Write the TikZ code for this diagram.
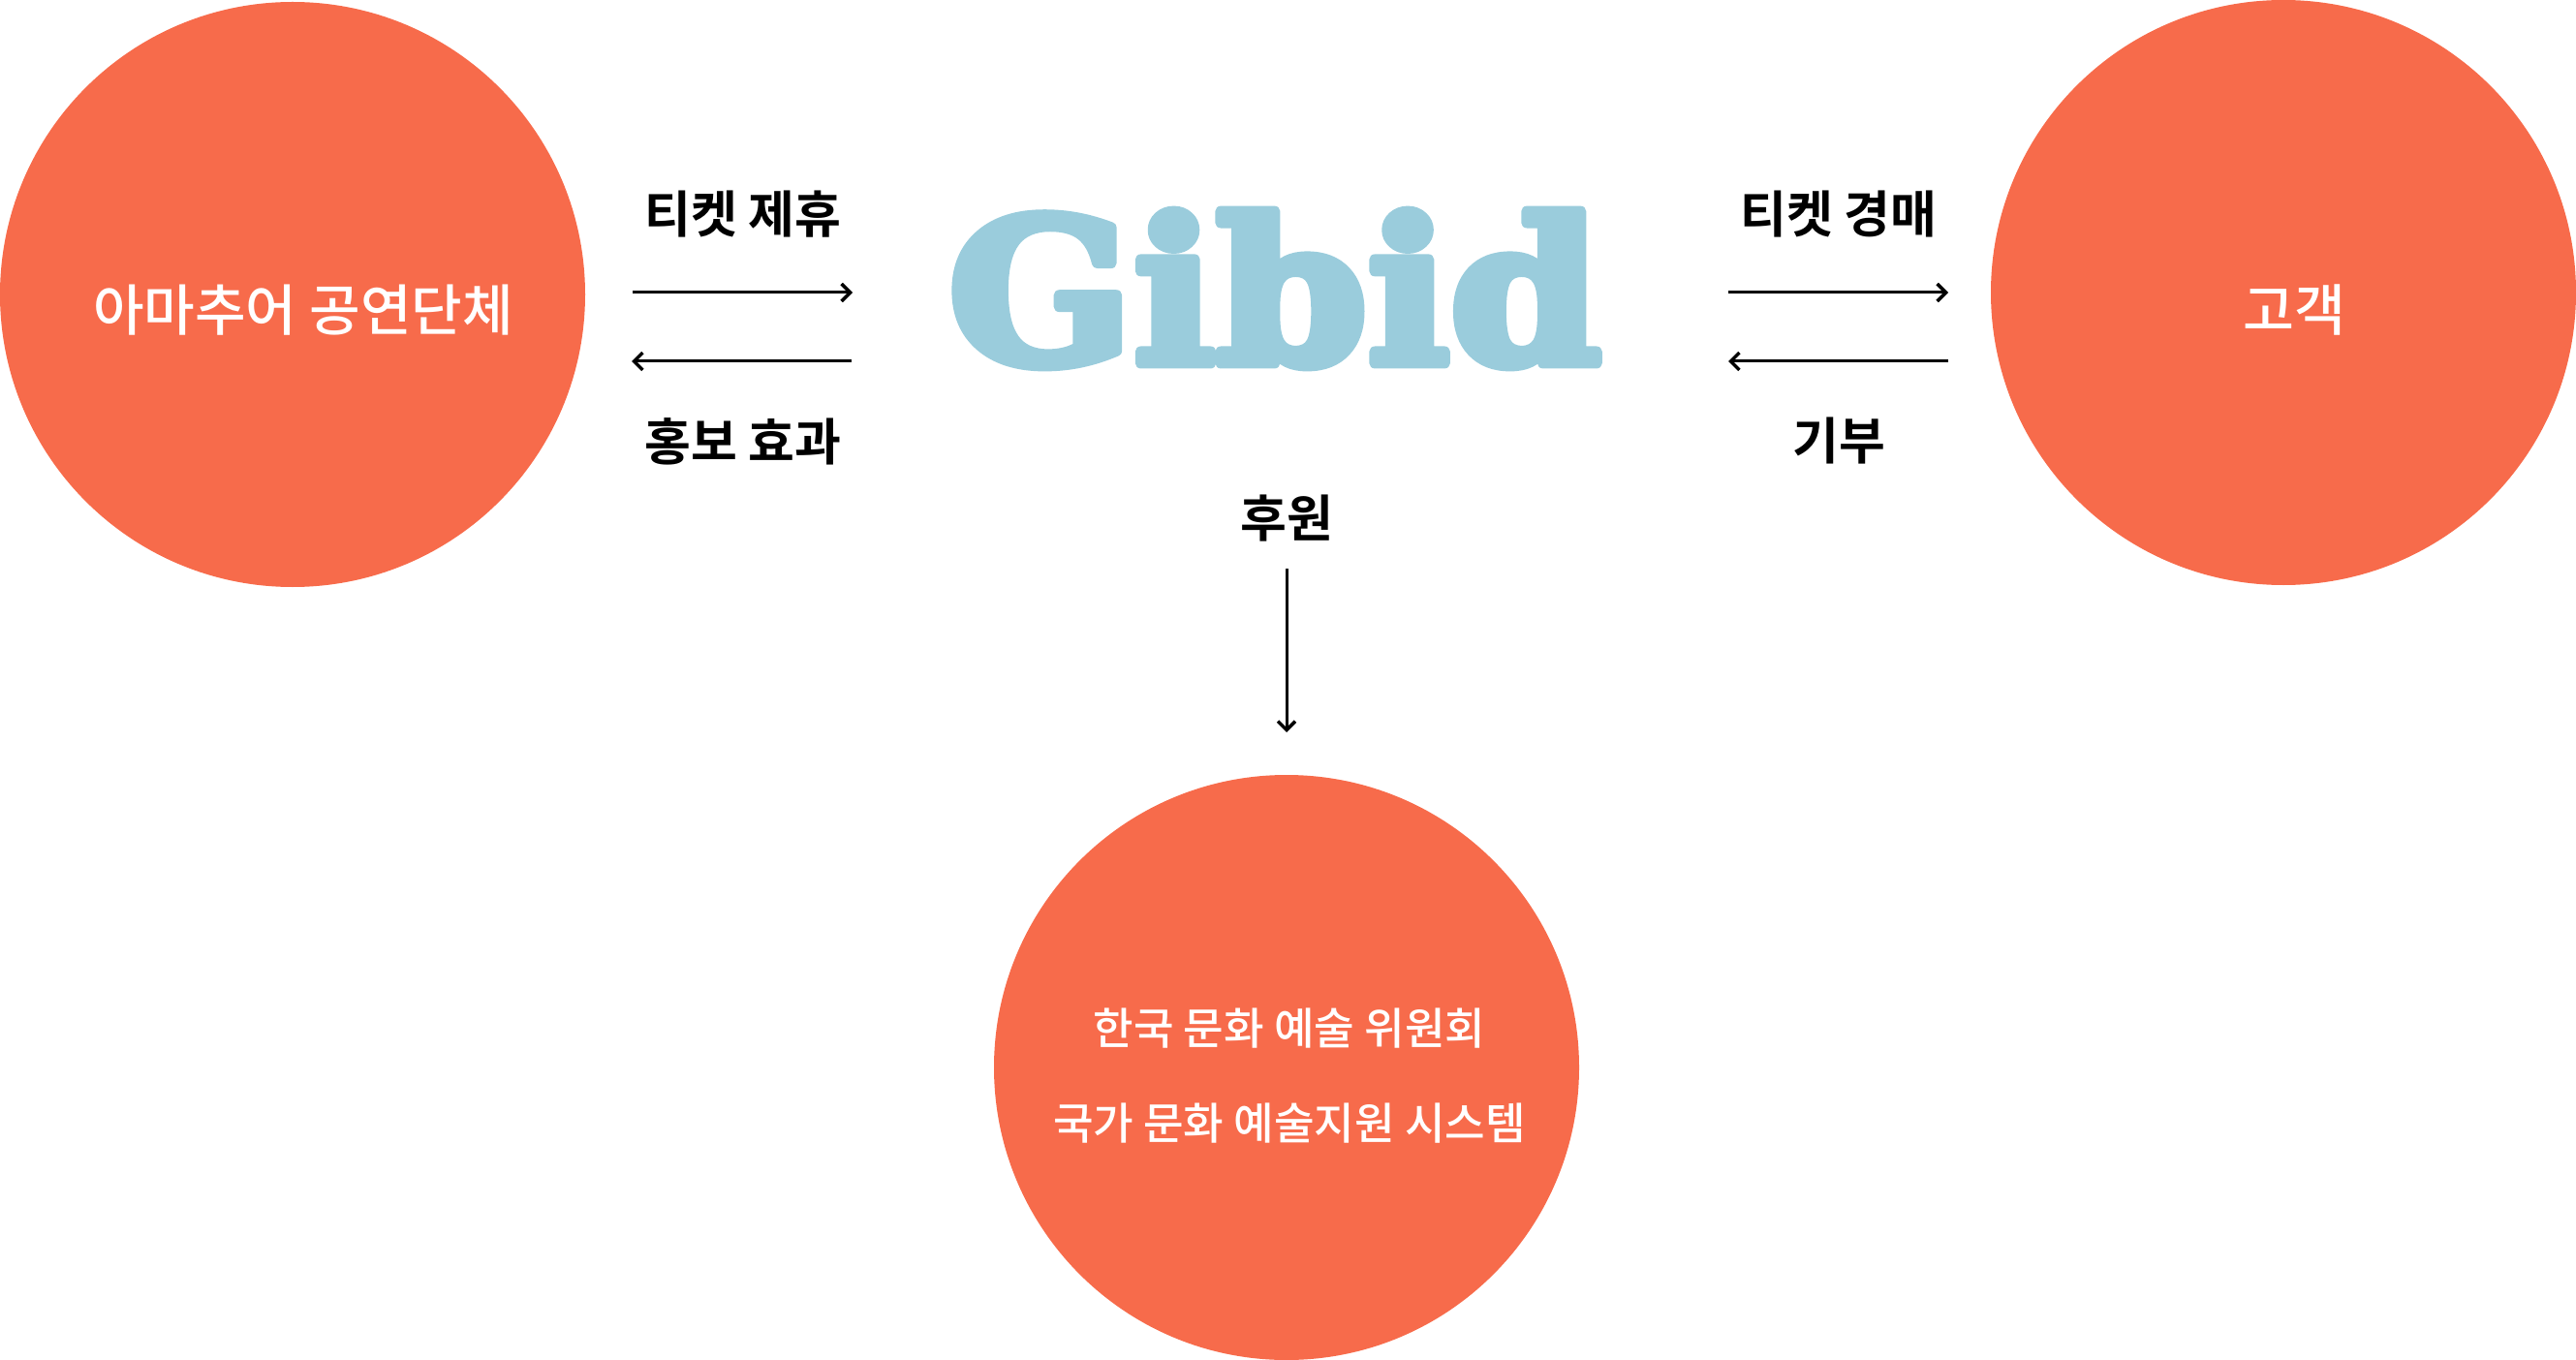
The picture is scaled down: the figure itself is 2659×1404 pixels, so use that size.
\documentclass[tikz,border=0pt]{standalone}
\usepackage{fontspec}
\setmainfont{Noto Sans CJK KR}
\newfontfamily\kr{Noto Sans CJK KR Medium}
\newfontfamily\krb{Noto Sans CJK KR Bold}
\newfontfamily\logofont[FakeBold=5.2]{DejaVu Serif Bold}
\usetikzlibrary{arrows.meta}
\definecolor{coral}{HTML}{F76B4B}
\definecolor{skyb}{HTML}{9ACCDC}
\tikzset{
  disc/.style={circle,fill=coral,draw=none,minimum size=604pt,inner sep=0pt,outer sep=0pt},
  wlabel/.style={text=white,inner sep=0pt,anchor=center},
  blabel/.style={text=black,inner sep=0pt,anchor=center,font=\krb\fontsize{52pt}{56pt}\selectfont},
  conn/.style={line width=3pt,-{Straight Barb[length=9pt,width=18pt,line width=3.4pt]}},
}
\begin{document}
\begin{tikzpicture}[x=1pt,y=-1pt]
\useasboundingbox (0,0) rectangle (2659,1404);
\node[disc] (perf) at (302,304) {};
\node[disc] (cust) at (2357,302) {};
\node[disc] (arts) at (1328,1102) {};
\node[wlabel,font=\kr\fontsize{57.2pt}{61pt}\selectfont] (perfT) at (313,320) {아마추어 공연단체};
\node[wlabel,font=\kr\fontsize{57.5pt}{61pt}\selectfont] (custT) at (2368,320) {고객};
\node[wlabel,font=\kr\fontsize{45.2pt}{49pt}\selectfont] (artsA) at (1331,1062) {한국 문화 예술 위원회};
\node[wlabel,font=\kr\fontsize{45.2pt}{49pt}\selectfont] (artsB) at (1331,1160) {국가 문화 예술지원 시스템};
\node[blabel] (l1) at (767,221) {티켓 제휴};
\node[blabel] (l2) at (767,456) {홍보 효과};
\node[blabel] (l3) at (1898,221) {티켓 경매};
\node[blabel] (l4) at (1898,455) {기부};
\node[blabel] (l5) at (1328,535) {후원};
\begin{scope}[line join=round]
\node[inner sep=0pt,text=skyb] (logo) at (1316,298) {\resizebox{673pt}{157pt}{\logofont Gibid}};
\end{scope}
\coordinate (a1s) at (653,302); \coordinate (a1e) at (880,302);
\coordinate (a2s) at (879,373); \coordinate (a2e) at (652,373);
\coordinate (a3s) at (1784,302); \coordinate (a3e) at (2011,302);
\coordinate (a4s) at (2011,373); \coordinate (a4e) at (1784,373);
\coordinate (a5s) at (1328,587); \coordinate (a5e) at (1328,756);
\draw[conn] (a1s) -- (a1e);
\draw[conn] (a2s) -- (a2e);
\draw[conn] (a3s) -- (a3e);
\draw[conn] (a4s) -- (a4e);
\draw[conn] (a5s) -- (a5e);
\end{tikzpicture}
\end{document}
